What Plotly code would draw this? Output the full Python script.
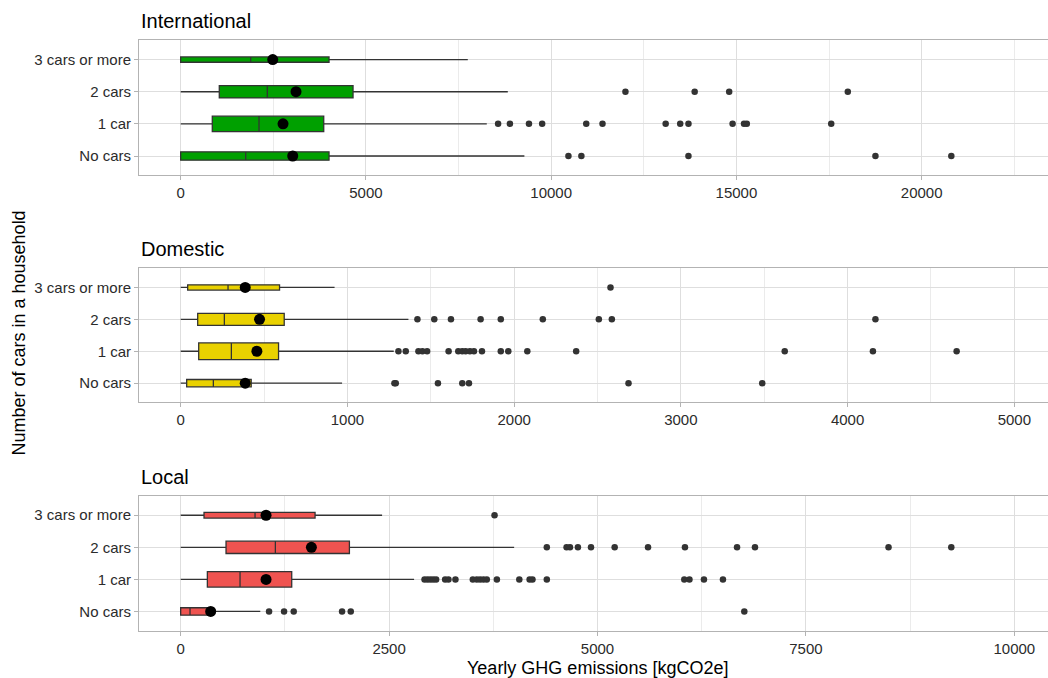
import plotly.graph_objects as go

# ---------------- data ----------------
CATEGORIES = ["No cars", "1 car", "2 cars", "3 cars or more"]

# International (kgCO2e), order = CATEGORIES
INT_LOW = [0, 0, 0, 0]
INT_Q1 = [0, 853, 1042, 0]
INT_MEDIAN = [1755, 2114, 2338, 1890]
INT_Q3 = [4004, 3861, 4652, 4004]
INT_HIGH = [9277, 8262, 8829, 7749]
INT_MEAN = [3024, 2762, 3113, 2484]
INT_OUT_NO_CARS = [10465, 10815, 13705, 18752, 20800]
INT_OUT_1_CAR = [8567, 8886, 9400, 9756, 10946, 11385, 13090, 13482, 13705,
                 14896, 15204, 15280, 17558]
INT_OUT_2_CARS = [12004, 13873, 14804, 18006]
INT_OUT_3_CARS = []

# Domestic
DOM_LOW = [0, 0, 0, 0]
DOM_Q1 = [36, 108, 102, 42]
DOM_MEDIAN = [196, 304, 262, 284]
DOM_Q3 = [423, 587, 621, 593]
DOM_HIGH = [968, 1278, 1366, 923]
DOM_MEAN = [387, 457, 473, 387]
DOM_OUT_NO_CARS = [1282, 1290, 1543, 1689, 1729, 2686, 3488]
DOM_OUT_1_CAR = [1306, 1350, 1426, 1450, 1478, 1607, 1665, 1689, 1709, 1735,
                 1759, 1807, 1920, 1965, 2079, 2372, 3623, 4152, 4654]
DOM_OUT_2_CARS = [1420, 1521, 1621, 1799, 1920, 2172, 2508, 2586, 4167]
DOM_OUT_3_CARS = [2578]

# Local
LOC_LOW = [0, 0, 0, 0]
LOC_Q1 = [0, 320, 544, 280]
LOC_MEDIAN = [112, 712, 1136, 892]
LOC_Q3 = [340, 1332, 2024, 1612]
LOC_HIGH = [955, 2800, 4000, 2416]
LOC_MEAN = [360, 1024, 1568, 1024]
LOC_OUT_NO_CARS = [1060, 1240, 1356, 1936, 2040, 6761]
LOC_OUT_1_CAR = [2925, 2960, 2995, 3030, 3064, 3172, 3212, 3296, 3504, 3552,
                 3592, 3632, 3672, 3793, 4062, 4186, 4220, 4392, 6041, 6103,
                 6277, 6505]
LOC_OUT_2_CARS = [4392, 4629, 4670, 4765, 4922, 5206, 5606, 6049, 6674, 6889,
                  8491, 9244]
LOC_OUT_3_CARS = [3765]

PANEL_TITLES = ["International", "Domestic", "Local"]
X_TITLE = "Yearly GHG emissions [kgCO2e]"
Y_TITLE = "Number of cars in a household"

# ---------------- styles / layout ----------------
W, H = 1048, 678
LEFT = 139
FONT = "Liberation Sans, Arial, sans-serif"
TICK_COLOR = "#2B2B2B"
BOX_COLORS = ["#00A000", "#E9D100", "#EF5350"]
BOX_WIDTHS = [[0.26, 0.48, 0.385, 0.166],
              [0.23, 0.52, 0.375, 0.166],
              [0.23, 0.48, 0.385, 0.178]]
X_LIMITS = [(0, 22500), (0, 5000), (0, 10000)]
X_DTICK = [5000, 1000, 2500]
PANEL_PX = [(40.3, 175.3), (268.3, 402.3), (496.0, 630.7)]  # top, bottom pixels
FULL_RIGHT_PX = 1056  # where the panel would end (cropped at 1048)

panels = [
    dict(low=INT_LOW, q1=INT_Q1, med=INT_MEDIAN, q3=INT_Q3, high=INT_HIGH, mean=INT_MEAN,
         out=[INT_OUT_NO_CARS, INT_OUT_1_CAR, INT_OUT_2_CARS, INT_OUT_3_CARS]),
    dict(low=DOM_LOW, q1=DOM_Q1, med=DOM_MEDIAN, q3=DOM_Q3, high=DOM_HIGH, mean=DOM_MEAN,
         out=[DOM_OUT_NO_CARS, DOM_OUT_1_CAR, DOM_OUT_2_CARS, DOM_OUT_3_CARS]),
    dict(low=LOC_LOW, q1=LOC_Q1, med=LOC_MEDIAN, q3=LOC_Q3, high=LOC_HIGH, mean=LOC_MEAN,
         out=[LOC_OUT_NO_CARS, LOC_OUT_1_CAR, LOC_OUT_2_CARS, LOC_OUT_3_CARS]),
]

fig = go.Figure()
layout_axes = {}
annotations = []

for i, p in enumerate(panels):
    n = "" if i == 0 else str(i + 1)
    xa, ya = "x" + n, "y" + n
    for j, cat in enumerate(CATEGORIES):
        fig.add_trace(go.Box(
            y=[cat], q1=[p["q1"][j]], median=[p["med"][j]], q3=[p["q3"][j]],
            lowerfence=[p["low"][j]], upperfence=[p["high"][j]],
            orientation="h", width=BOX_WIDTHS[i][j], whiskerwidth=0,
            fillcolor=BOX_COLORS[i], line=dict(color="#333333", width=1.3),
            boxpoints=False, xaxis=xa, yaxis=ya, showlegend=False, hoverinfo="skip"))
    ox, oy = [], []
    for j, cat in enumerate(CATEGORIES):
        for v in p["out"][j]:
            ox.append(v)
            oy.append(cat)
    fig.add_trace(go.Scatter(x=ox, y=oy, mode="markers", xaxis=xa, yaxis=ya,
                             marker=dict(color="#333333", size=6.5, line=dict(width=0)),
                             showlegend=False, hoverinfo="skip"))
    fig.add_trace(go.Scatter(x=p["mean"], y=CATEGORIES, mode="markers", xaxis=xa, yaxis=ya,
                             marker=dict(color="#000000", size=11, line=dict(width=0)),
                             showlegend=False, hoverinfo="skip"))

    lo_lim, hi_lim = X_LIMITS[i]
    span = hi_lim - lo_lim
    r0 = lo_lim - 0.05 * span
    r1_full = hi_lim + 0.05 * span
    frac = (W - LEFT) / (FULL_RIGHT_PX - LEFT)
    r1 = r0 + (r1_full - r0) * frac

    top_px, bot_px = PANEL_PX[i]
    dom = [1 - bot_px / H, 1 - top_px / H]

    axis_common = dict(showline=True, linecolor="#B3B3B3", linewidth=1,
                       ticks="outside", ticklen=4, tickcolor="#B3B3B3",
                       tickfont=dict(size=15, color=TICK_COLOR, family=FONT),
                       zeroline=False, gridcolor="#DEDEDE", gridwidth=1,
                       automargin=False, fixedrange=True)
    layout_axes["xaxis" + n] = dict(axis_common, domain=[0, 1], anchor=ya, range=[r0, r1],
                                    tick0=0, dtick=X_DTICK[i], tickformat="d", mirror=True,
                                    minor=dict(dtick=X_DTICK[i] / 2, tick0=0, showgrid=True,
                                               gridcolor="#EBEBEB", gridwidth=1))
    layout_axes["yaxis" + n] = dict(axis_common, domain=dom, anchor=xa, type="category",
                                    categoryorder="array", categoryarray=CATEGORIES,
                                    range=[-0.6, 3.6], mirror=False)
    annotations.append(dict(text=PANEL_TITLES[i], xref="paper", yref="paper",
                            x=0, y=dom[1], xanchor="left", yanchor="bottom", yshift=6,
                            showarrow=False, font=dict(size=20, color="#000000", family=FONT)))

annotations.append(dict(text=X_TITLE, xref="paper", yref="paper",
                        x=(597.5 - LEFT) / (W - LEFT), y=1 - 668.3 / H,
                        xanchor="center", yanchor="middle", showarrow=False,
                        font=dict(size=18, color="#000000", family=FONT)))
annotations.append(dict(text=Y_TITLE, xref="paper", yref="paper",
                        x=(18.5 - LEFT) / (W - LEFT), y=1 - 333 / H, textangle=-90,
                        xanchor="center", yanchor="middle", showarrow=False,
                        font=dict(size=18, color="#000000", family=FONT)))

fig.update_layout(width=W, height=H, margin=dict(l=LEFT, r=0, t=0, b=0),
                  paper_bgcolor="white", plot_bgcolor="white", boxmode="overlay",
                  font=dict(family=FONT), annotations=annotations, **layout_axes)

fig.write_html("out.html", config={"displayModeBar": False})
